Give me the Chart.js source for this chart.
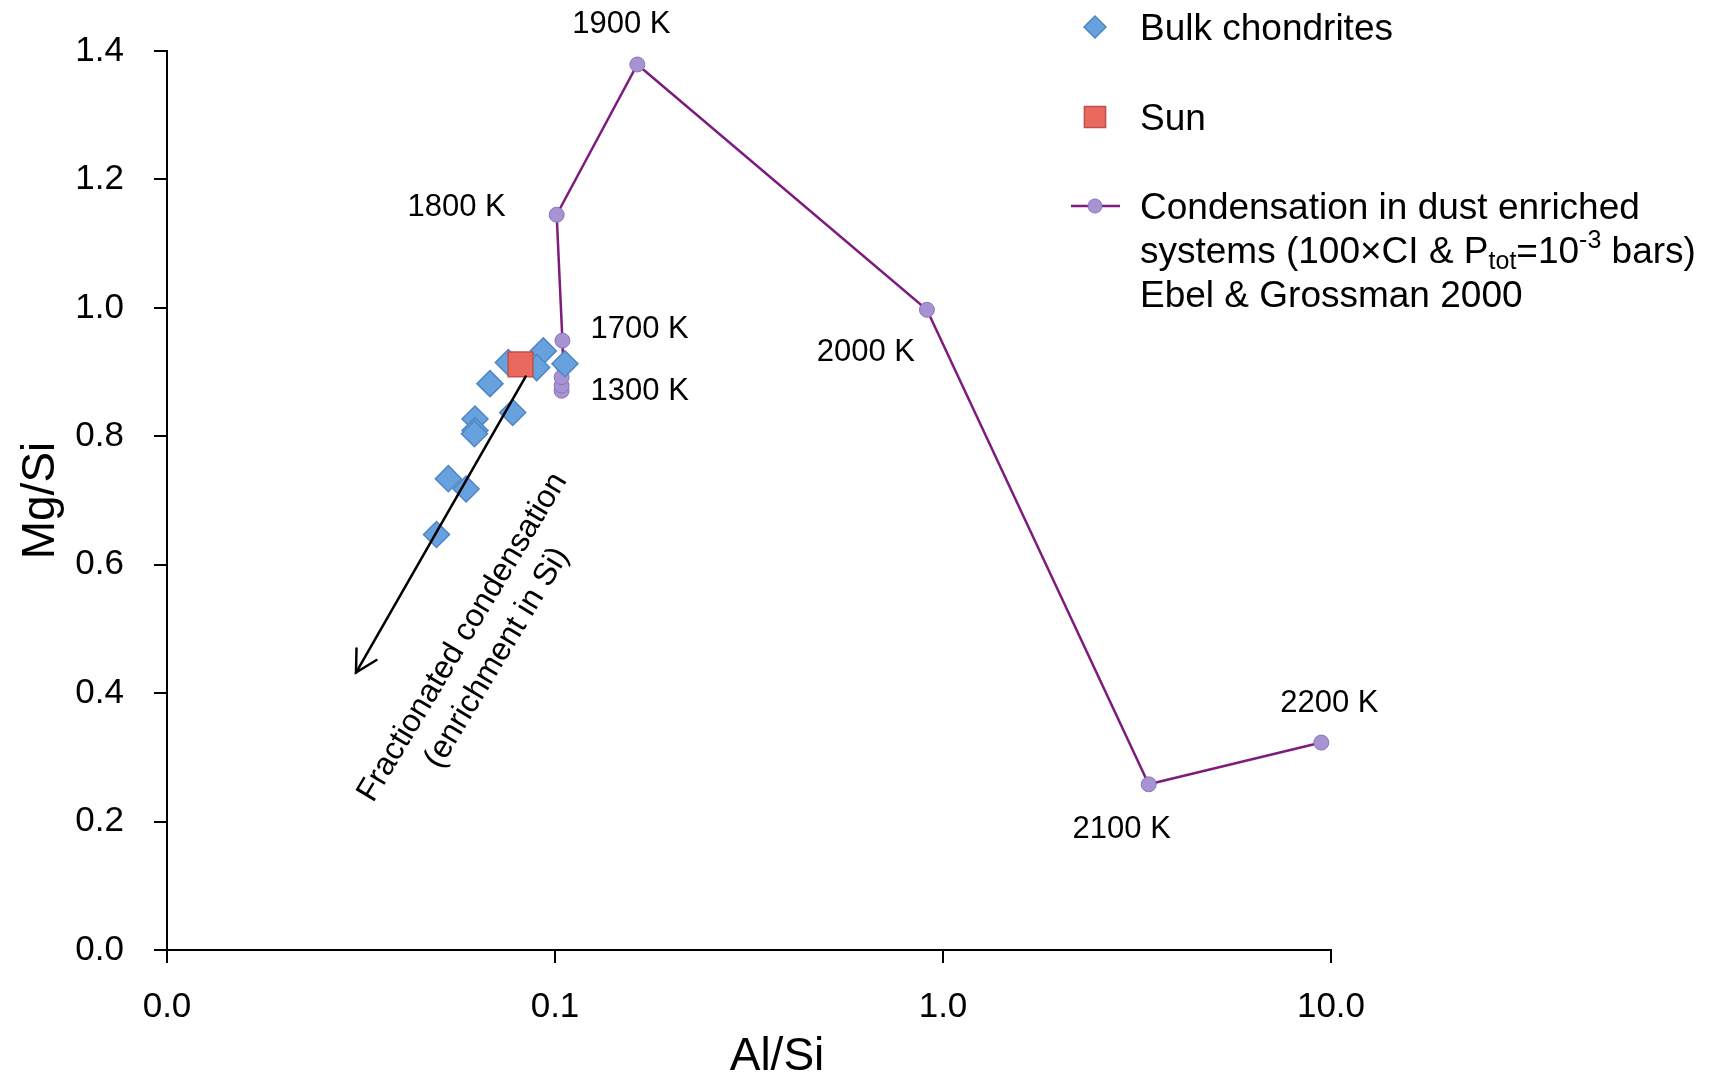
<!DOCTYPE html>
<html>
<head>
<meta charset="utf-8">
<script src="https://cdn.jsdelivr.net/npm/chart.js@4.4.1/dist/chart.umd.min.js"></script>
<style>
  body { margin: 0; background: #fff; }
  canvas { display: block; }
</style>
</head>
<body>
<canvas id="chart" width="1722" height="1080"></canvas>
<script>
// bulk chondrites
const bulkAlSi = [0.0933, 0.1061, 0.0897, 0.0758, 0.0680, 0.0622, 0.0622, 0.0620, 0.0778, 0.0531, 0.0590, 0.0495];
const bulkMgSi = [0.933, 0.913, 0.907, 0.915, 0.882, 0.827, 0.809, 0.804, 0.837, 0.734, 0.718, 0.647];

// sun
const sunAlSi = [0.0815];
const sunMgSi = [0.912];

// condensation path (Ebel & Grossman 2000)
const condTemps = [1300, 1400, 1500, 1600, 1700, 1800, 1900, 2000, 2100, 2200];
const condAlSi = [0.104, 0.104, 0.104, 0.105, 0.1045, 0.101, 0.163, 0.909, 3.39, 9.44];
const condMgSi = [0.871, 0.879, 0.892, 0.910, 0.949, 1.145, 1.379, 0.997, 0.258, 0.323];
const labelledTemps = [1300, 1700, 1800, 1900, 2000, 2100, 2200];

// arrow (start, end)
const arrowAlSi = [0.0840, 0.0307];
const arrowMgSi = [0.893, 0.432];
const arrowText = ['Fractionated condensation', '(enrichment in Si)'];

// axes
const xTickValues = [0.01, 0.1, 1, 10];
const xTickLabels = ['0.0', '0.1', '1.0', '10.0'];
const yTickValues = [0, 0.2, 0.4, 0.6, 0.8, 1.0, 1.2, 1.4];

const FONT = '"Liberation Sans", Arial, Helvetica, sans-serif';

function toPoints(xs, ys) {
  let pts = [];
  for (let i = 0; i < xs.length; i++) {
    pts.push({x: xs[i], y: ys[i]});
  }
  return pts;
}

// label placement next to each temperature point [dx, dy, align]
const labelOffsets = {
  1300: [29, 1, 'left'],
  1700: [28, -11, 'left'],
  1800: [-51, -7, 'right'],
  1900: [-16, -40, 'center'],
  2000: [-12, 43, 'right'],
  2100: [-27, 45, 'center'],
  2200: [8, -39, 'center']
};

const annotations = {
  id: 'annotations',
  afterDatasetsDraw(chart) {
    const ctx = chart.ctx;
    const xs = chart.scales.x, ys = chart.scales.y;
    ctx.save();

    // temperature labels
    const meta = chart.getDatasetMeta(2);
    ctx.fillStyle = '#000';
    ctx.font = '31px ' + FONT;
    ctx.textBaseline = 'middle';
    condTemps.forEach((t, i) => {
      if (!labelledTemps.includes(t)) return;
      const off = labelOffsets[t];
      const pt = meta.data[i];
      ctx.textAlign = off[2];
      ctx.fillText(t + ' K', pt.x + off[0], pt.y + off[1]);
    });

    // arrow
    const x0 = xs.getPixelForValue(arrowAlSi[0]), y0 = ys.getPixelForValue(arrowMgSi[0]);
    const x1 = xs.getPixelForValue(arrowAlSi[1]), y1 = ys.getPixelForValue(arrowMgSi[1]);
    ctx.strokeStyle = '#000';
    ctx.lineWidth = 2.5;
    ctx.lineCap = 'round';
    ctx.beginPath();
    ctx.moveTo(x0, y0);
    ctx.lineTo(x1, y1);
    ctx.stroke();
    const ang = Math.atan2(y1 - y0, x1 - x0);
    const head = 24;
    ctx.beginPath();
    ctx.moveTo(x1 - head * Math.cos(ang - 0.5), y1 - head * Math.sin(ang - 0.5));
    ctx.lineTo(x1, y1);
    ctx.lineTo(x1 - head * Math.cos(ang + 0.5), y1 - head * Math.sin(ang + 0.5));
    ctx.stroke();

    // rotated arrow text
    ctx.translate((x0 + x1) / 2 + 39, (y0 + y1) / 2 + 123);
    ctx.rotate(-59 * Math.PI / 180);
    ctx.font = '32px ' + FONT;
    ctx.textAlign = 'center';
    ctx.fillText(arrowText[0], 0, -20);
    ctx.fillText(arrowText[1], 0, 20);
    ctx.restore();
  },
  afterDraw(chart) {
    const ctx = chart.ctx;
    ctx.save();
    ctx.fillStyle = '#000';
    ctx.textBaseline = 'middle';
    ctx.textAlign = 'center';

    // x axis title
    ctx.font = '46px ' + FONT;
    ctx.fillText('Al/Si', 777, 1057);

    // legend
    const ds = chart.data.datasets;
    const mx = 1095, tx = 1140;
    const rowsY = [27, 117, 206];
    const H = Chart.helpers;

    ctx.fillStyle = ds[0].backgroundColor;
    ctx.strokeStyle = ds[0].borderColor;
    ctx.lineWidth = 1.5;
    H.drawPoint(ctx, {pointStyle: 'rectRot', radius: 11, borderWidth: 1.5, rotation: 0}, mx, rowsY[0]);

    ctx.fillStyle = ds[1].backgroundColor;
    ctx.strokeStyle = ds[1].borderColor;
    H.drawPoint(ctx, {pointStyle: 'rect', radius: 15, borderWidth: 1.5, rotation: 0}, mx, rowsY[1]);

    ctx.strokeStyle = ds[2].borderColor;
    ctx.lineWidth = 2.5;
    ctx.beginPath();
    ctx.moveTo(mx - 24, rowsY[2]);
    ctx.lineTo(mx + 25, rowsY[2]);
    ctx.stroke();
    ctx.fillStyle = ds[2].pointBackgroundColor;
    ctx.strokeStyle = ds[2].pointBorderColor;
    ctx.lineWidth = 1;
    H.drawPoint(ctx, {pointStyle: 'circle', radius: 7, borderWidth: 1, rotation: 0}, mx, rowsY[2]);

    ctx.fillStyle = '#000';
    ctx.textAlign = 'left';
    ctx.font = '37px ' + FONT;
    ctx.fillText(ds[0].label, tx, rowsY[0] + 3);
    ctx.fillText(ds[1].label, tx, rowsY[1] + 3);

    // multi-line label with sub/superscripts
    const lines = [
      [['Condensation in dust enriched', 0]],
      [['systems (100\u00d7CI & P', 0], ['tot', -1], ['=10', 0], ['-3', 1], [' bars)', 0]],
      [['Ebel & Grossman 2000', 0]]
    ];
    lines.forEach((segs, li) => {
      let x = tx;
      const y = rowsY[2] + 3 + li * 44;
      segs.forEach(([s, k]) => {
        ctx.font = (k === 0 ? '37px ' : '25px ') + FONT;
        const dy = k === -1 ? 9 : (k === 1 ? -12 : 0);
        ctx.fillText(s, x, y + dy);
        x += ctx.measureText(s).width;
      });
    });
    ctx.restore();
  }
};

new Chart(document.getElementById('chart'), {
  type: 'scatter',
  data: {
    datasets: [
      {
        label: 'Bulk chondrites',
        data: toPoints(bulkAlSi, bulkMgSi),
        pointStyle: 'rectRot',
        pointRadius: 13,
        backgroundColor: '#67a2de',
        borderColor: '#4f86c4',
        borderWidth: 1.5,
        order: 1
      },
      {
        label: 'Sun',
        data: toPoints(sunAlSi, sunMgSi),
        pointStyle: 'rect',
        pointRadius: 17.5,
        backgroundColor: '#e9695f',
        borderColor: '#c0504d',
        borderWidth: 1.5,
        order: 0
      },
      {
        label: 'Condensation in dust enriched systems (100\u00d7CI & Ptot=10-3 bars) Ebel & Grossman 2000',
        data: toPoints(condAlSi, condMgSi),
        showLine: true,
        borderColor: '#7d1b7e',
        borderWidth: 2.5,
        pointStyle: 'circle',
        pointRadius: 7.5,
        pointBackgroundColor: '#a792d2',
        pointBorderColor: '#8a73bd',
        pointBorderWidth: 1,
        order: 2
      }
    ]
  },
  options: {
    responsive: false,
    animation: false,
    devicePixelRatio: 1,
    layout: { padding: { left: 0, top: 50, right: 391, bottom: 0 } },
    plugins: {
      legend: { display: false },
      tooltip: { enabled: false }
    },
    scales: {
      x: {
        type: 'logarithmic',
        min: 0.01,
        max: 10,
        afterBuildTicks: (scale) => { scale.ticks = xTickValues.map(v => ({value: v})); },
        afterFit: (scale) => { scale.height = 130; },
        ticks: {
          callback: (v, i) => xTickLabels[i],
          font: { family: FONT, size: 35 },
          color: '#000',
          padding: 23,
          maxRotation: 0
        },
        grid: { drawOnChartArea: false, color: '#000', lineWidth: 2, tickLength: 13 },
        border: { color: '#000', width: 2 }
      },
      y: {
        min: 0,
        max: 1.4,
        afterBuildTicks: (scale) => { scale.ticks = yTickValues.map(v => ({value: v})); },
        afterFit: (scale) => { scale.width = 167; },
        ticks: {
          callback: (v) => v.toFixed(1),
          font: { family: FONT, size: 35 },
          color: '#000',
          padding: 30
        },
        title: {
          display: true,
          text: 'Mg/Si',
          font: { family: FONT, size: 46 },
          color: '#000',
          padding: { top: 14, bottom: 0 }
        },
        grid: { drawOnChartArea: false, color: '#000', lineWidth: 2, tickLength: 13 },
        border: { color: '#000', width: 2 }
      }
    }
  },
  plugins: [annotations]
});
</script>
</body>
</html>
